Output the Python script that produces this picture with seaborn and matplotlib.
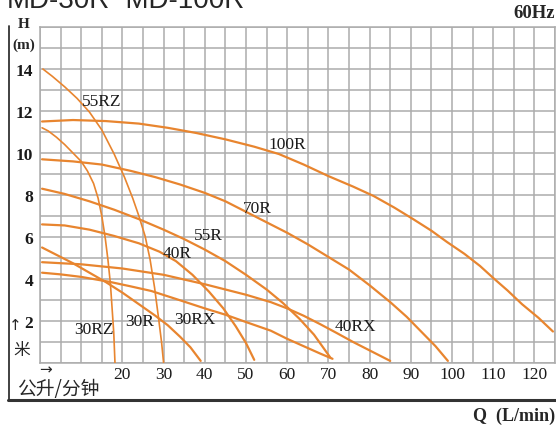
import numpy as np
import pandas as pd
import seaborn as sns
import matplotlib.pyplot as plt

# flow Q (L/min) and head H (m), one pair of lists per pump
q_55rz = [0.7, 3, 6, 9, 12, 15, 18, 20.5, 22.5, 24, 25.5, 26.7, 27.8, 28.8, 29.5, 30]
h_55rz = [14.0, 13.65, 13.15, 12.6, 11.95, 11.1, 9.95, 8.85, 7.85, 7.0, 6.05, 4.95, 3.6, 2.1, 1.0, 0.0]

q_30rz = [0.5, 2, 4, 6, 8, 10, 11.5, 13, 14.1, 15.0, 15.8, 16.5, 17.1, 17.5, 17.9, 18.2]
h_30rz = [11.2, 11.05, 10.75, 10.4, 10.0, 9.6, 9.15, 8.55, 7.85, 7.0, 6.0, 4.9, 3.75, 2.6, 1.45, 0.0]

q_100r = [0.5, 8, 16, 24, 31, 38, 45, 52, 58, 64, 70, 76, 81, 86, 90.5, 95, 98.8,
          103, 106.8, 110, 113.5, 117, 121, 124.5]
h_100r = [11.5, 11.57, 11.52, 11.4, 11.2, 10.95, 10.65, 10.3, 9.95, 9.45, 8.9, 8.4,
          7.95, 7.4, 6.86, 6.3, 5.76, 5.2, 4.62, 4.05, 3.45, 2.8, 2.15, 1.5]

q_70r = [0.5, 8, 15, 22, 28, 34, 40, 45, 50, 55, 60, 65, 70, 75, 80, 85, 89, 92.5, 96, 99]
h_70r = [9.7, 9.6, 9.45, 9.15, 8.85, 8.5, 8.1, 7.7, 7.2, 6.7, 6.2, 5.65, 5.05, 4.45,
         3.7, 2.9, 2.2, 1.5, 0.8, 0.1]

q_55r = [0.5, 6, 12, 18, 24, 30, 35, 40, 45, 50, 55, 59, 63, 66.5, 70.5]
h_55r = [8.3, 8.05, 7.7, 7.3, 6.85, 6.35, 5.9, 5.4, 4.85, 4.2, 3.5, 2.85, 2.1, 1.35, 0.25]

q_40r = [0.5, 6, 12, 18, 24, 29, 33, 37, 41, 44.5, 47.5, 50, 52]
h_40r = [6.6, 6.55, 6.35, 6.05, 5.7, 5.3, 4.85, 4.2, 3.4, 2.6, 1.75, 0.95, 0.15]

q_30r = [0.5, 4, 8, 12, 16, 20, 24, 28, 31, 34, 36.5, 39]
h_30r = [5.5, 5.15, 4.75, 4.3, 3.85, 3.35, 2.8, 2.25, 1.8, 1.25, 0.75, 0.1]

q_40rx = [0.5, 10, 20, 30, 40, 50, 56, 60, 64, 68, 72, 76, 80, 85]
h_40rx = [4.8, 4.7, 4.5, 4.2, 3.75, 3.25, 2.9, 2.6, 2.25, 1.85, 1.43, 1.0, 0.6, 0.1]

q_30rx = [0.5, 5, 10, 17, 22, 27, 33, 40, 45, 50, 56, 60, 64, 68, 71]
h_30rx = [4.3, 4.22, 4.1, 3.86, 3.65, 3.43, 3.05, 2.6, 2.3, 1.95, 1.54, 1.15, 0.8, 0.45, 0.2]

x_ticks = [20, 30, 40, 50, 60, 70, 80, 90, 100, 110, 120]
y_ticks = [2, 4, 6, 8, 10, 12, 14]

curves = {
    '55RZ': (q_55rz, h_55rz), '30RZ': (q_30rz, h_30rz),
    '100R': (q_100r, h_100r), '70R': (q_70r, h_70r),
    '55R': (q_55r, h_55r), '40R': (q_40r, h_40r),
    '30R': (q_30r, h_30r), '40RX': (q_40rx, h_40rx),
    '30RX': (q_30rx, h_30rx),
}

# where the curve names sit (data coords)
label_pos = {
    '55RZ': (15.0, 12.5), '100R': (60.0, 10.45), '70R': (52.7, 7.4),
    '55R': (40.8, 6.1), '40R': (33.3, 5.25), '30RZ': (13.1, 1.6),
    '30R': (24.3, 2.0), '30RX': (37.6, 2.1), '40RX': (76.5, 1.75),
}

orange = '#e8852f'
serif = ['Liberation Serif', 'DejaVu Serif']
cjk = ['Noto Sans CJK SC', 'DejaVu Sans']

sns.set_style('white')
plt.rcParams['font.family'] = serif

fig = plt.figure(figsize=(5.56, 4.31), dpi=100)
ax = fig.add_axes([40 / 556, 1 - 364 / 431, 515 / 556, 336 / 431])

for name, (q, h) in curves.items():
    df = pd.DataFrame({'Q': q, 'H': h})
    lw = 1.2 if name in ('55RZ', '30RZ') else 1.6
    sns.lineplot(data=df, x='Q', y='H', color=orange, lw=lw, sort=False,
                 estimator=None, ax=ax, zorder=3)

for name, (lx, ly) in label_pos.items():
    ax.text(lx, ly, name, fontsize=12.5, ha='center', va='center', zorder=4,
            color='#1a1a1a')

ax.set_xlim(0, 125)
ax.set_ylim(0, 16)
ax.set_xticks(x_ticks)
ax.set_xticklabels([str(t) for t in x_ticks])
ax.set_yticks(y_ticks)
ax.set_yticklabels([str(t) for t in y_ticks], fontweight='bold')
ax.set_xticks(np.arange(0, 126, 5), minor=True)
ax.set_yticks(np.arange(0, 17, 1), minor=True)
ax.grid(which='both', color='#acacac', lw=1.1)
ax.tick_params(which='both', length=0, labelsize=12.5, labelcolor='#1a1a1a')
ax.tick_params(axis='x', pad=2)
ax.tick_params(axis='y', pad=5)
for s in ax.spines.values():
    s.set_color('#acacac')
    s.set_linewidth(1.1)
ax.set_xlabel('')
ax.set_ylabel('')

# axis captions around the grid
fig.text(24 / 556, 1 - 24 / 431, 'H', fontsize=11, fontweight='bold',
         ha='center', va='center')
fig.text(24 / 556, 1 - 45 / 431, '(m)', fontsize=11, fontweight='bold',
         ha='center', va='center')
fig.text(15 / 556, 1 - 326 / 431, '↑', fontsize=11, ha='center', va='center',
         family=['DejaVu Sans'])
fig.text(22 / 556, 1 - 351 / 431, '米', fontsize=12, ha='center',
         va='center', family=cjk)
fig.text(46 / 556, 1 - 370 / 431, '→', fontsize=11, ha='center',
         va='center', family=['DejaVu Sans'])
fig.text(17 / 556, 1 - 390 / 431, '公升/分钟', fontsize=13.5, ha='left',
         va='center', family=cjk)
fig.text(555 / 556, 1 - 416 / 431, 'Q  (L/min)', fontsize=13,
         fontweight='bold', ha='right', va='center')
fig.text(555 / 556, 1 - 14 / 431, '60Hz', fontsize=13.5, fontweight='bold',
         ha='right', va='center')
fig.text(7 / 556, 1 - 8 / 431, 'MD-30R~MD-100R', fontsize=20, ha='left',
         va='baseline', family=['Liberation Sans', 'DejaVu Sans'])

# outer frame: left rule and heavy bottom rule
fig.add_artist(plt.Line2D([9 / 556, 9 / 556], [1 - 402 / 431, 1 - 27 / 431],
                          color='#333333', lw=1.3))
fig.add_artist(plt.Line2D([8 / 556, 1.0], [1 - 401 / 431, 1 - 401 / 431],
                          color='#333333', lw=2.2))

fig.savefig('out.png', dpi=100)
